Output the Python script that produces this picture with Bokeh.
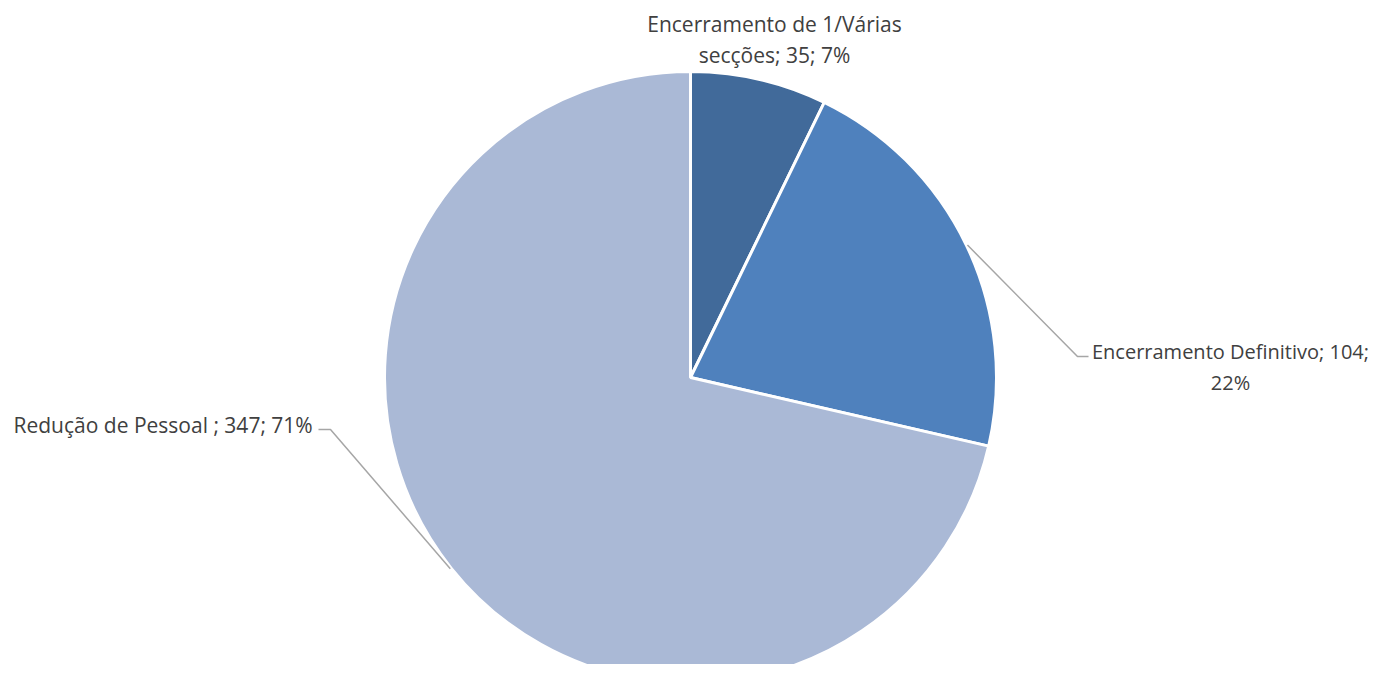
import math
from bokeh.plotting import figure
from bokeh.models import Range1d, ColumnDataSource
from bokeh.core.properties import value
from bokeh.embed import file_html
from bokeh.resources import INLINE

categories = ["Encerramento de 1/Várias secções", "Encerramento Definitivo", "Redução de Pessoal "]
counts = [35, 104, 347]
pct_labels = [7, 22, 71]
colors = ["#416A9A", "#4F81BD", "#AAB9D6"]

W, H = 1377, 664
# data coords: x = image x, y = 680 - image y
p = figure(width=W, height=H, output_backend="svg", toolbar_location=None,
           x_range=Range1d(0, W), y_range=Range1d(680 - H, 680),
           min_border=0, outline_line_color=None)
p.axis.visible = False
p.grid.visible = False
p.background_fill_color = "white"

cx, cy, R = 690, 680 - 377, 306
total = sum(counts)
fracs = [c / total for c in counts]
starts, ends, mids = [], [], []
acc = 0.0
for f in fracs:
    a0 = math.pi / 2 - 2 * math.pi * acc
    a1 = math.pi / 2 - 2 * math.pi * (acc + f)
    starts.append(a0)
    ends.append(a1)
    mids.append((a0 + a1) / 2)
    acc += f

src = ColumnDataSource(dict(start=starts, end=ends, color=colors))
p.wedge(x=cx, y=cy, radius=R, start_angle="start", end_angle="end", direction="clock",
        fill_color="color", line_color="white", line_width=3, source=src)

lead_color = "#A6A6A6"
m = mids[1]
sx, sy = cx + (R + 1) * math.cos(m), cy + (R + 1) * math.sin(m)
p.line([sx, 1077, 1088], [sy, 680 - 356, 680 - 356], line_color=lead_color, line_width=1.5)
m = mids[2]
sx, sy = cx + (R + 1) * math.cos(m), cy + (R + 1) * math.sin(m)
p.line([sx, 330, 318], [sy, 680 - 429, 680 - 429], line_color=lead_color, line_width=1.5)

texts = ["Encerramento de 1/Várias",
         f"secções; {counts[0]}; {pct_labels[0]}%",
         f"{categories[2]}; {counts[2]}; {pct_labels[2]}%"]
xs = [774, 774, 13]
ys = [680 - 23, 680 - 54, 680 - 424]
aligns = ["center", "center", "left"]
tsrc = ColumnDataSource(dict(x=xs, y=ys, t=texts, a=aligns))
p.text(x="x", y="y", text="t", text_align="a", text_baseline="middle",
       text_font=value("Open Sans"), text_font_size="21px", text_color="#404040", source=tsrc)

rsrc = ColumnDataSource(dict(x=[1230, 1230], y=[680 - 351, 680 - 382],
                             t=[f"{categories[1]}; {counts[1]};", f"{pct_labels[1]}%"]))
p.text(x="x", y="y", text="t", text_align="center", text_baseline="middle",
       text_font=value("Open Sans"), text_font_size="20px", text_color="#404040", source=rsrc)

open("out.html", "w").write(file_html(p, INLINE))
